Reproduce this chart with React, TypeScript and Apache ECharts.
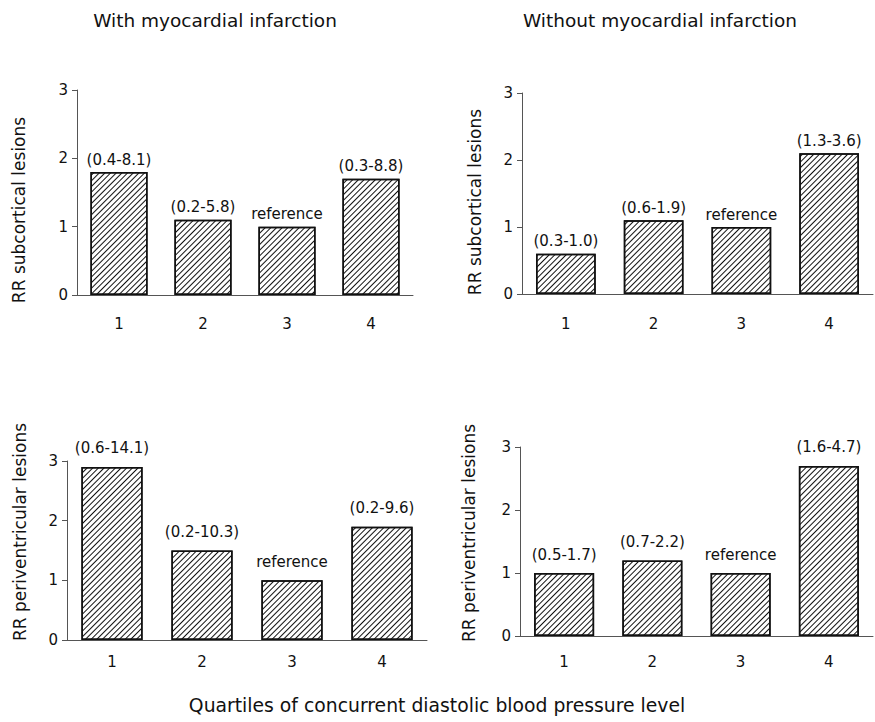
import React, { useEffect, useRef } from "react";
import * as echarts from "echarts";

const categories = ["1", "2", "3", "4"];

const rrSubWithMI = [1.8, 1.1, 1.0, 1.7];
const ciSubWithMI = ["(0.4-8.1)", "(0.2-5.8)", "reference", "(0.3-8.8)"];

const rrSubWithoutMI = [0.6, 1.1, 1.0, 2.1];
const ciSubWithoutMI = ["(0.3-1.0)", "(0.6-1.9)", "reference", "(1.3-3.6)"];

const rrPeriWithMI = [2.9, 1.5, 1.0, 1.9];
const ciPeriWithMI = ["(0.6-14.1)", "(0.2-10.3)", "reference", "(0.2-9.6)"];

const rrPeriWithoutMI = [1.0, 1.2, 1.0, 2.7];
const ciPeriWithoutMI = ["(0.5-1.7)", "(0.7-2.2)", "reference", "(1.6-4.7)"];

const columnTitles = ["With myocardial infarction", "Without myocardial infarction"];
const yAxisNames = ["RR subcortical lesions", "RR subcortical lesions", "RR periventricular lesions", "RR periventricular lesions"];
const xAxisTitle = "Quartiles of concurrent diastolic blood pressure level";

const yMin = 0;
const yMax = 3;
const yInterval = 1;

const FONT = "'DejaVu Sans', sans-serif";

export default function App() {
  const ref = useRef<HTMLDivElement>(null);

  useEffect(() => {
    document.body.style.margin = "0";
    if (!ref.current) return;
    const chart = echarts.init(ref.current, undefined, { renderer: "svg" });

    const panels = [
      { values: rrSubWithMI, cis: ciSubWithMI, grid: { left: 77, top: 90, width: 336, height: 205 }, xMargin: 21, labelDist: 5 },
      { values: rrSubWithoutMI, cis: ciSubWithoutMI, grid: { left: 522, top: 93, width: 351, height: 201 }, xMargin: 22, labelDist: 5 },
      { values: rrPeriWithMI, cis: ciPeriWithMI, grid: { left: 67, top: 461, width: 360, height: 179 }, xMargin: 14, labelDist: 11 },
      { values: rrPeriWithoutMI, cis: ciPeriWithoutMI, grid: { left: 520, top: 447, width: 353, height: 189 }, xMargin: 18, labelDist: 11 },
    ];

    const nameCenters = [
      [18.5, 210],
      [475, 202],
      [19.5, 532],
      [469, 533],
    ];

    const decal = {
      symbol: "rect",
      symbolSize: 1,
      color: "#111",
      backgroundColor: "#fff",
      dashArrayX: [1, 0],
      dashArrayY: [1, 2.3],
      rotation: -Math.PI / 4,
    };

    const option: any = {
      animation: false,
      backgroundColor: "#fff",
      textStyle: { fontFamily: FONT },
      grid: panels.map((p) => ({ ...p.grid, containLabel: false })),
      xAxis: panels.map((p, i) => ({
        type: "category",
        gridIndex: i,
        data: categories,
        axisLine: { show: true, lineStyle: { color: "#555", width: 1 } },
        axisTick: { show: false },
        axisLabel: { color: "#111", fontSize: 15, fontFamily: FONT, margin: p.xMargin },
        splitLine: { show: false },
      })),
      yAxis: panels.map((p, i) => ({
        type: "value",
        gridIndex: i,
        min: yMin,
        max: yMax,
        interval: yInterval,
        axisLine: { show: true, lineStyle: { color: "#555", width: 1 } },
        axisTick: { show: true, length: 5, inside: false, lineStyle: { color: "#555" } },
        axisLabel: { color: "#111", fontSize: 15, fontFamily: FONT, margin: 9 },
        splitLine: { show: false },
      })),
      series: panels.map((p, i) => ({
        type: "bar",
        xAxisIndex: i,
        yAxisIndex: i,
        data: p.values,
        barWidth: "68%",
        itemStyle: {
          color: "#fff",
          borderColor: "#111",
          borderWidth: 1.5,
          decal,
        },
        label: {
          show: true,
          position: "top",
          distance: p.labelDist,
          color: "#111",
          fontSize: 15,
          fontFamily: FONT,
          formatter: (params: any) => p.cis[params.dataIndex],
        },
      })),
      graphic: [
        {
          type: "text",
          x: 215,
          y: 20,
          style: { text: columnTitles[0], font: `18.5px ${FONT}`, fill: "#111", textAlign: "center", textVerticalAlign: "middle" },
        },
        {
          type: "text",
          x: 660,
          y: 20,
          style: { text: columnTitles[1], font: `18.5px ${FONT}`, fill: "#111", textAlign: "center", textVerticalAlign: "middle" },
        },
        {
          type: "text",
          x: 437,
          y: 705,
          style: { text: xAxisTitle, font: `18.8px ${FONT}`, fill: "#111", textAlign: "center", textVerticalAlign: "middle" },
        },
        ...yAxisNames.map((name, i) => ({
          type: "text",
          x: nameCenters[i][0],
          y: nameCenters[i][1],
          rotation: Math.PI / 2,
          style: { text: name, font: `17px ${FONT}`, fill: "#111", textAlign: "center", textVerticalAlign: "middle" },
        })),
      ],
    };

    chart.setOption(option);
    return () => chart.dispose();
  }, []);

  return <div ref={ref} style={{ width: 875, height: 722 }} />;
}
